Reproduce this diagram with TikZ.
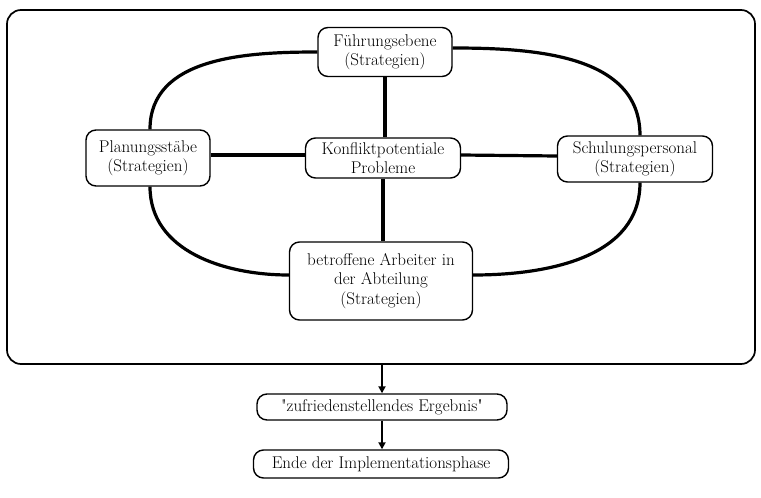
\documentclass[tikz,border=0pt]{standalone}
\usetikzlibrary{arrows.meta}
\begin{document}
\begin{tikzpicture}[x=1pt,y=-1pt,
  box/.style={draw, line width=1.4pt, rounded corners=10pt, align=center, fill=white,
    inner sep=0pt, font=\fontsize{17}{19.5}\selectfont},
  link/.style={line width=3.2pt},
  flow/.style={line width=2.4pt, -{Triangle[length=7pt,width=7pt]}},
  frame/.style={draw, line width=1.7pt, rounded corners=14pt}]
\useasboundingbox (0,0) rectangle (761,498);
\draw[frame] (7,10) rectangle (755,364);

\node[box, minimum width=134pt, minimum height=49pt] (fue) at (385,52) {Führungsebene\\(Strategien)};
\node[box, minimum width=124pt, minimum height=56pt] (plan) at (148,158) {Planungsstäbe\\(Strategien)};
\node[box, minimum width=155pt, minimum height=40pt] (konf) at (383,158) {Konfliktpotentiale\\Probleme};
\node[box, minimum width=155pt, minimum height=46pt] (schul) at (635,159) {Schulungspersonal\\(Strategien)};
\node[box, minimum width=183pt, minimum height=78pt] (arb) at (381,281) {betroffene Arbeiter in\\der Abteilung\\(Strategien)};
\node[box, minimum width=250pt, minimum height=26pt] (zuf) at (382,407) {\textquotedbl zufriedenstellendes Ergebnis\textquotedbl};
\node[box, minimum width=255pt, minimum height=28pt] (ende) at (381,464) {Ende der Implementationsphase};

\coordinate (fb) at (382,364);

% ring
\draw[link] (fue.west) to[out=180,in=90] ([xshift=2pt]plan.north);
\draw[link] ([xshift=2pt]plan.south) to[out=-90,in=180] ([yshift=6pt]arb.west);
\draw[link] ([yshift=4pt]fue.east) to[out=0,in=90] ([xshift=5pt]schul.north);
\draw[link] ([xshift=5pt]schul.south) to[out=-90,in=0] ([yshift=6pt]arb.east);

% cross
\draw[link] (fue.south) -- (konf.north -| fue.south);
\draw[link] (konf.south) -- (arb.north -| konf.south);
\draw[link] ([yshift=3pt]plan.east) -- ([yshift=3pt]konf.west);
\draw[link] ([yshift=3pt]konf.east) -- ([yshift=3pt]schul.west);

% flow
\draw[flow] (fb) -- (zuf.north -| fb);
\draw[flow] (zuf.south) -- (ende.north -| zuf.south);
\end{tikzpicture}
\end{document}
